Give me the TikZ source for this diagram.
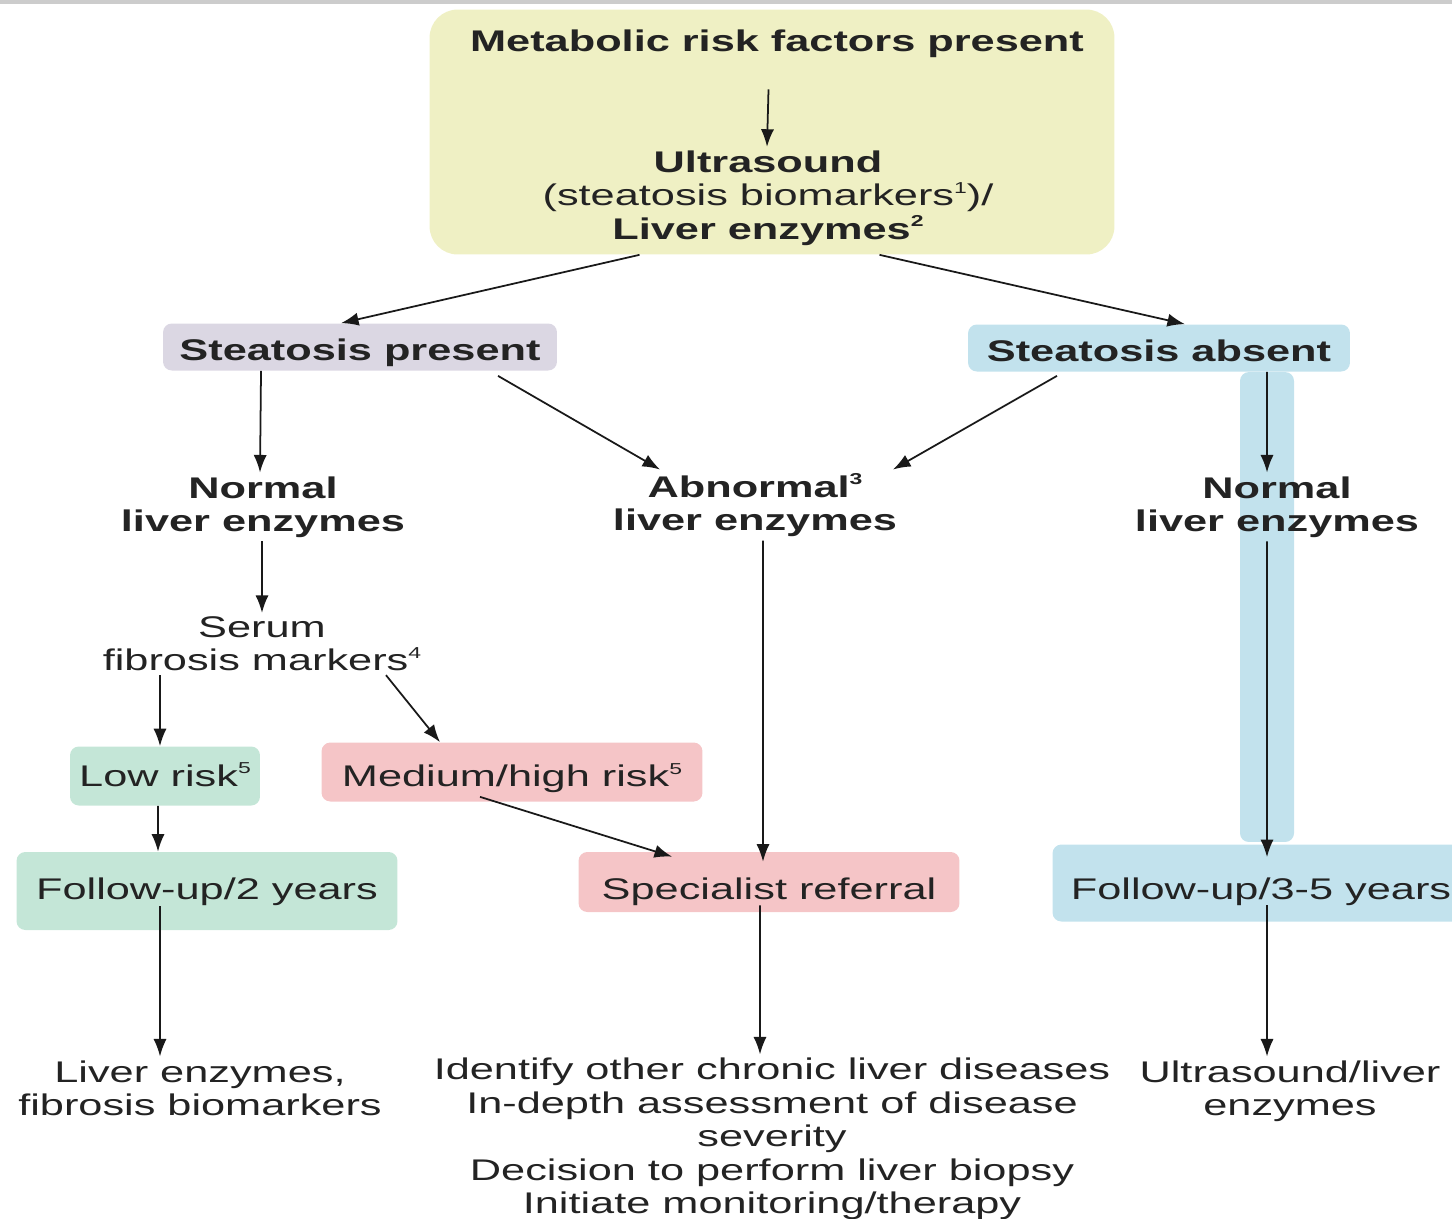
\documentclass[tikz,border=0pt]{standalone}
\usepackage{fontspec}
\setmainfont[FakeStretch=1.45]{Liberation Sans}
\usetikzlibrary{arrows.meta}

\definecolor{boxyellow}{RGB}{239,240,196}
\definecolor{boxgray}{RGB}{219,215,227}
\definecolor{boxblue}{RGB}{194,226,237}
\definecolor{boxgreen}{RGB}{196,230,215}
\definecolor{boxpink}{RGB}{245,197,199}
\definecolor{txtgray}{RGB}{35,35,35}

\newcommand\fnmark[1]{\raisebox{0.8ex}{\fontsize{9}{9}\selectfont #1}}

\begin{document}
\begin{tikzpicture}[
x                    = 0.02cm,
y                    = -0.02cm,
every node/.style    = {font=\fontsize{17}{19}\selectfont, text=txtgray, align=center, inner sep=2pt},
flow/.style          = {draw=black!90, line width=1pt, -{Latex[length=10pt,width=7.5pt]}},
colbox/.style        = {rounded corners=5pt, inner sep=0pt, text height=15pt, text depth=0pt},
stepnote/.style      = {font=\fontsize{17}{19}\selectfont\bfseries}
]

\clip (0,0) rectangle (1452,1218);
\fill[gray!40] (0,0) rectangle (1452,4);

% boxes
\node [colbox, rounded corners=16pt, fill=boxyellow, minimum width=13.7cm, minimum height=4.9cm] (topbox) at (772,132) {};
\node [stepnote] (risk) at (777,44) {Metabolic risk factors present};
\node [stepnote] (us) at (768,198) {Ultrasound\\{\mdseries(steatosis biomarkers\fnmark{1})/}\\Liver enzymes\fnmark{2}};

\node [colbox, fill=boxgray, minimum width=7.88cm, minimum height=0.94cm, stepnote] (sp) at (360,347) {Steatosis present};
\node [colbox, fill=boxblue, minimum width=7.64cm, minimum height=0.94cm, stepnote] (sa) at (1159,348) {Steatosis absent};
\node [colbox, fill=boxblue, minimum width=1.08cm, minimum height=9.4cm] (bar) at (1267,607) {};

\node [stepnote] (normL) at (263,507) {Normal\\liver enzymes};
\node [stepnote] (abn) at (755,505) {Abnormal\fnmark{3}\\liver enzymes};
\node [stepnote] (normR) at (1277,507) {Normal\\liver enzymes};

\node (serum) at (262,644) {Serum\\fibrosis markers\fnmark{4}};

\node [colbox, text height=12pt, fill=boxgreen, minimum width=3.8cm, minimum height=1.18cm] (low) at (165,776) {Low risk\fnmark{5}};
\node [colbox, text height=17pt, fill=boxpink, minimum width=7.62cm, minimum height=1.18cm] (med) at (512,772) {Medium/high risk\fnmark{5}};
\node [colbox, text height=10pt, fill=boxgreen, minimum width=7.62cm, minimum height=1.56cm] (fu2) at (207,891) {Follow-up/2 years};
\node [colbox, text height=19.5pt, fill=boxpink, minimum width=7.62cm, minimum height=1.2cm] (spec) at (769,882) {Specialist referral};
\node [colbox, text height=18.5pt, fill=boxblue, minimum width=8.34cm, minimum height=1.54cm] (fu35) at (1261,883) {Follow-up/3-5 years};

\node (lefttxt) at (200,1088) {Liver enzymes,\\fibrosis biomarkers};
\node (midtxt) at (772,1139) {Identify other chronic liver diseases\\In-depth assessment of disease\\severity\\Decision to perform liver biopsy\\Initiate monitoring/therapy};
\node (righttxt) at (1290,1091) {Ultrasound/liver\\enzymes};

% connectors
\draw [flow] ([xshift=-0.17cm,yshift=-0.55cm]risk.south) -- ([xshift=-0.02cm]us.north);
\draw [flow] ([xshift=-2.65cm]topbox.south) -- ([xshift=-0.38cm]sp.north);
\draw [flow] ([xshift=2.15cm]topbox.south) -- ([xshift=0.52cm]sa.north);
\draw [flow] ([xshift=-1.98cm]sp.south) -- ([xshift=-0.06cm]normL.north);
\draw [flow] ([xshift=2.76cm,yshift=-0.1cm]sp.south) -- ([xshift=-1.9cm]abn.north);
\draw [flow] ([xshift=-2.04cm,yshift=-0.08cm]sa.south) -- ([xshift=2.76cm]abn.north);
\draw [flow] ([xshift=2.16cm]sa.south) -- ([xshift=-0.2cm]normR.north);
\draw [flow] ([xshift=-0.02cm]normL.south) -- (serum.north);
\draw [flow] ([xshift=-2.04cm]serum.south) -- ([xshift=-0.1cm]low.north);
\draw [flow] ([xshift=2.48cm]serum.south) -- ([xshift=-1.44cm]med.north);
\draw [flow] ([xshift=-0.14cm]low.south) -- ([xshift=-0.98cm]fu2.north);
\draw [flow] ([xshift=-0.64cm,yshift=0.1cm]med.south) -- ([xshift=-1.94cm,yshift=-0.1cm]spec.north);
\draw [flow] ([xshift=0.16cm]abn.south) -- ([xshift=-0.12cm,yshift=-0.2cm]spec.north);
\draw [flow] ([xshift=-0.18cm,yshift=0.14cm]spec.south) -- ([xshift=-0.24cm]midtxt.north);
\draw [flow] ([xshift=-0.94cm,yshift=-0.3cm]fu2.center) -- ([xshift=-0.8cm]lefttxt.north);
\draw [flow] ([xshift=-0.2cm]normR.south) -- ([xshift=0.12cm,yshift=-0.26cm]fu35.north);
\draw [flow] ([xshift=0.12cm,yshift=-0.44cm]fu35.center) -- ([xshift=-0.46cm]righttxt.north);
\end{tikzpicture}
\end{document}
